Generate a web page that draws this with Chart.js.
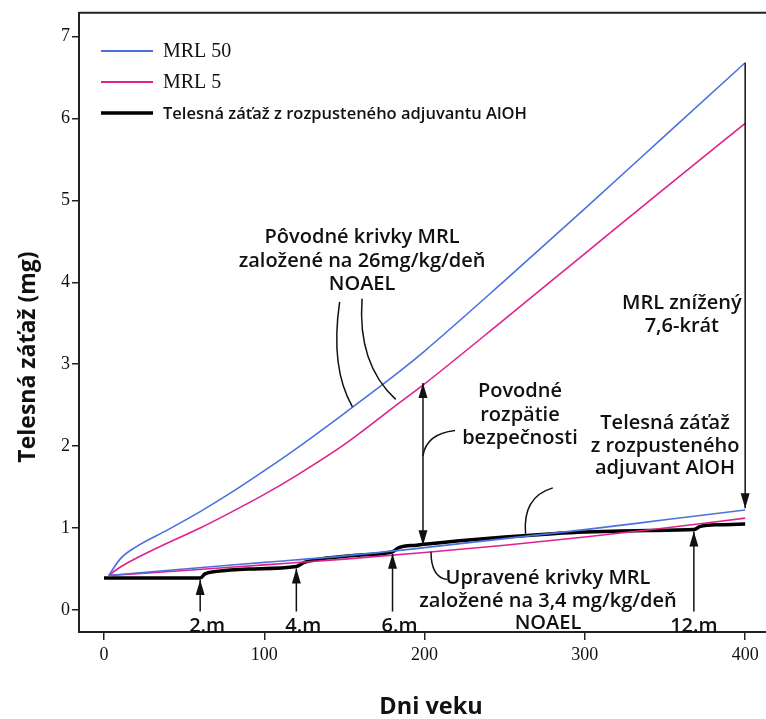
<!DOCTYPE html>
<html>
<head>
<meta charset="utf-8">
<script src="https://cdn.jsdelivr.net/npm/chart.js@4.4.0/dist/chart.umd.min.js"></script>
<style>
  html, body { margin: 0; padding: 0; background: #fff; }
  #wrap { width: 766px; height: 719px; }
</style>
</head>
<body>
<div id="wrap"><canvas id="chart" width="766" height="719"></canvas></div>
<script>
// values (x = days of age, y = body burden in mg)
const origDays   = [3, 10, 20, 40, 60, 80, 100, 120, 150, 185, 200, 250, 300, 350, 400];
const mrl50Orig  = [0.42, 0.62, 0.77, 0.98, 1.20, 1.44, 1.70, 1.97, 2.40, 2.92, 3.16, 4.02, 4.90, 5.79, 6.68];
const mrl5Orig   = [0.42, 0.52, 0.63, 0.82, 1.00, 1.20, 1.41, 1.64, 2.02, 2.54, 2.76, 3.55, 4.35, 5.15, 5.94];

const adjDays    = [3, 50, 100, 150, 200, 250, 300, 350, 400];
const mrl50Adj   = [0.42, 0.50, 0.58, 0.66, 0.76, 0.87, 0.98, 1.10, 1.22];
const mrl5Adj    = [0.42, 0.48, 0.55, 0.62, 0.70, 0.79, 0.89, 1.00, 1.12];

const burdenDays = [0, 60, 63, 70, 90, 120, 125, 135, 160, 180, 184, 195, 220, 250, 280, 300, 340, 368, 372, 385, 400];
const burden     = [0.39, 0.39, 0.44, 0.47, 0.50, 0.53, 0.58, 0.62, 0.67, 0.71, 0.76, 0.79, 0.84, 0.89, 0.93, 0.95, 0.97, 0.98, 1.02, 1.04, 1.05];

const xTicks = [0, 100, 200, 300, 400];
const yTicks = [0, 1, 2, 3, 4, 5, 6, 7];

// vaccination months marked with arrows
const doseDays   = [60, 120, 180, 368];
const doseLabels = ['2.m', '4.m', '6.m', '12.m'];
const doseTips   = [0.39, 0.53, 0.71, 0.98];

const BLUE = '#4a72dc';
const PINK = '#e0218c';
const SANS = '"Open Sans", "Noto Sans", sans-serif';
const SERIF = '"Liberation Serif", "DejaVu Serif", serif';

const pts = (xs, ys) => xs.map((x, i) => ({ x: x, y: ys[i] }));

function arrowHead(ctx, x, y, dir) {
  // dir: -1 pointing up, 1 pointing down
  ctx.beginPath();
  ctx.moveTo(x, y);
  ctx.lineTo(x - 4.5, y - dir * 15);
  ctx.lineTo(x + 4.5, y - dir * 15);
  ctx.closePath();
  ctx.fill();
}

const annotations = {
  id: 'annotations',
  afterDatasetsDraw(chart) {
    const ctx = chart.ctx;
    const xs = chart.scales.x, ys = chart.scales.y;
    const X = v => xs.getPixelForValue(v);
    const Y = v => ys.getPixelForValue(v);
    const area = chart.chartArea;

    ctx.save();
    // top frame line
    ctx.strokeStyle = '#222';
    ctx.lineWidth = 2;
    ctx.beginPath();
    ctx.moveTo(area.left, area.top);
    ctx.lineTo(chart.width, area.top);
    ctx.stroke();

    ctx.fillStyle = '#111';
    ctx.strokeStyle = '#111';
    ctx.lineWidth = 1.5;

    // dose arrows
    doseDays.forEach((d, i) => {
      const x = X(d);
      ctx.beginPath();
      ctx.moveTo(x, Y(-0.02));
      ctx.lineTo(x, Y(doseTips[i]) + 2);
      ctx.stroke();
      arrowHead(ctx, x, Y(doseTips[i]) + 2, -1);
    });

    // original safety margin (double arrow)
    let x = X(199);
    ctx.beginPath();
    ctx.moveTo(x, Y(2.77));
    ctx.lineTo(x, Y(0.79));
    ctx.stroke();
    arrowHead(ctx, x, Y(2.77), -1);
    arrowHead(ctx, x, Y(0.79), 1);

    // MRL reduction arrow at day 400
    x = X(400);
    ctx.beginPath();
    ctx.moveTo(x, Y(6.68));
    ctx.lineTo(x, Y(1.24));
    ctx.stroke();
    arrowHead(ctx, x, Y(1.24), 1);

    // leader curves
    const curve = (a, c, b) => {
      ctx.beginPath();
      ctx.moveTo(X(a[0]), Y(a[1]));
      ctx.quadraticCurveTo(X(c[0]), Y(c[1]), X(b[0]), Y(b[1]));
      ctx.stroke();
    };
    curve([147, 3.76], [141, 2.95], [155, 2.48]);
    curve([161, 3.80], [158, 3.00], [182, 2.57]);
    curve([219, 2.19], [201, 2.15], [199, 1.88]);
    curve([280, 1.49], [261, 1.38], [263, 0.93]);
    curve([214, 0.37], [204, 0.40], [204, 0.71]);

    // text labels
    ctx.font = '600 20px ' + SANS;
    ctx.textAlign = 'center';
    ctx.textBaseline = 'middle';
    const lines = (cx, arr) => arr.forEach(l => ctx.fillText(l[0], X(cx), Y(l[1])));
    lines(161, [['Pôvodné krivky MRL', 4.55], ['založené na 26mg/kg/deň', 4.26], ['NOAEL', 3.98]]);
    lines(360.5, [['MRL znížený', 3.74], ['7,6-krát', 3.46]]);
    lines(259.5, [['Povodné', 2.67], ['rozpätie', 2.38], ['bezpečnosti', 2.10]]);
    lines(350, [['Telesná záťaž', 2.28], ['z rozpusteného', 2.00], ['adjuvant AlOH', 1.73]]);
    lines(277, [['Upravené krivky MRL', 0.39], ['založené na 3,4 mg/kg/deň', 0.11], ['NOAEL', -0.16]]);
    doseDays.forEach((d, i) => {
      ctx.fillText(doseLabels[i], X(d) + (i === 3 ? 0 : 7), Y(-0.2));
    });

    // legend
    const legendItems = [
      { ds: 0, y: 51, font: '20px ' + SERIF, w: 2 },
      { ds: 1, y: 82, font: '20px ' + SERIF, w: 2 },
      { ds: 4, y: 113, font: '600 16.5px ' + SANS, w: 3.5 }
    ];
    ctx.textAlign = 'left';
    legendItems.forEach(it => {
      const ds = chart.data.datasets[it.ds];
      ctx.strokeStyle = ds.borderColor;
      ctx.lineWidth = it.w;
      ctx.beginPath();
      ctx.moveTo(101, it.y);
      ctx.lineTo(153, it.y);
      ctx.stroke();
      ctx.fillStyle = '#111';
      ctx.font = it.font;
      ctx.fillText(ds.label, 163, it.y + 1);
    });

    // axis titles
    ctx.font = 'bold 23.5px ' + SANS;
    ctx.textAlign = 'center';
    ctx.fillText('Dni veku', 431, 707);
    ctx.font = 'bold 23px ' + SANS;
    ctx.translate(28, 357);
    ctx.rotate(-Math.PI / 2);
    ctx.fillText('Telesná záťaž (mg)', 0, 0);
    ctx.restore();
  }
};

const lineStyle = (color, width) => ({
  borderColor: color,
  backgroundColor: color,
  borderWidth: width,
  pointRadius: 0,
  fill: false,
  cubicInterpolationMode: 'monotone'
});

new Chart(document.getElementById('chart').getContext('2d'), {
  type: 'line',
  data: {
    datasets: [
      { label: 'MRL 50', data: pts(origDays, mrl50Orig), ...lineStyle(BLUE, 1.6) },
      { label: 'MRL 5', data: pts(origDays, mrl5Orig), ...lineStyle(PINK, 1.6) },
      { label: 'MRL 50 (upravené)', data: pts(adjDays, mrl50Adj), ...lineStyle(BLUE, 1.6) },
      { label: 'MRL 5 (upravené)', data: pts(adjDays, mrl5Adj), ...lineStyle(PINK, 1.6) },
      { label: 'Telesná záťaž z rozpusteného adjuvantu AlOH', data: pts(burdenDays, burden), ...lineStyle('#000', 3.5) }
    ]
  },
  options: {
    responsive: false,
    animation: false,
    clip: false,
    layout: { padding: { top: 12, right: 0, left: 0, bottom: 0 } },
    plugins: { legend: { display: false }, tooltip: { enabled: false } },
    scales: {
      x: {
        type: 'linear',
        min: -15.6,
        max: 413,
        afterFit: s => { s.height = 87; },
        afterBuildTicks: s => { s.ticks = xTicks.map(v => ({ value: v })); },
        grid: { drawOnChartArea: false, tickLength: 8, color: '#222', lineWidth: 1.5 },
        border: { color: '#222', width: 2 },
        ticks: { color: '#111', font: { family: SERIF, size: 18 }, padding: 4, maxRotation: 0 }
      },
      y: {
        type: 'linear',
        min: -0.27,
        max: 7.29,
        afterFit: s => { s.width = 79; },
        afterBuildTicks: s => { s.ticks = yTicks.map(v => ({ value: v })); },
        grid: { drawOnChartArea: false, tickLength: 7, color: '#222', lineWidth: 1.5 },
        border: { color: '#222', width: 2 },
        ticks: { color: '#111', font: { family: SERIF, size: 18 }, padding: 2 }
      }
    }
  },
  plugins: [annotations]
});
</script>
</body>
</html>
